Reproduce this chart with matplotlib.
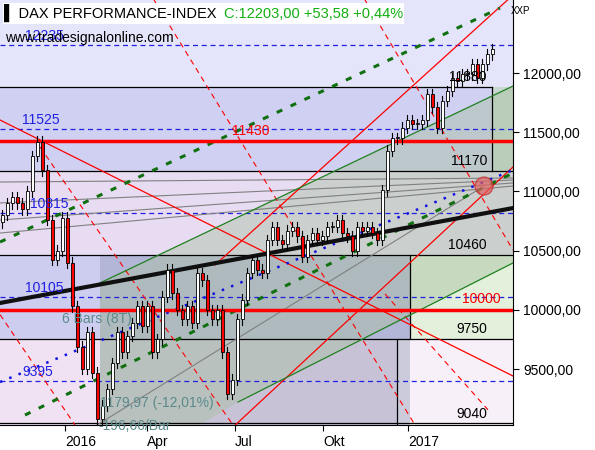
import numpy as np
import matplotlib.pyplot as plt
from matplotlib.patches import Rectangle, Polygon, Ellipse
from matplotlib.offsetbox import TextArea, HPacker, AnchoredOffsetbox

plt.rcParams["font.family"] = ["Liberation Sans", "DejaVu Sans"]

# closes read every 5 bars (x = 2, 7, 12, ...)
closes = [10800, 10900, 10950, 10900, 10850, 11000, 11300, 11420, 11180, 10760,
          10420, 10500, 10780, 10400, 10030, 9690, 9500, 9810, 9470, 9080,
          9190, 9330, 9550, 9810, 9640, 9780, 9890, 10030, 9860, 10030,
          9640, 9750, 10110, 10340, 10140, 10000, 9920, 10030, 9890, 10310,
          10250, 10000, 9920, 10000, 9640, 9290, 9410, 9920, 10085, 10310,
          10420, 10340, 10310, 10590, 10700, 10590, 10560, 10670, 10700, 10620,
          10450, 10590, 10650, 10590, 10620, 10700, 10700, 10760, 10650, 10620,
          10500, 10700, 10670, 10700, 10650, 10590, 11010, 11345, 11450, 11450,
          11540, 11600, 11570, 11570, 11600, 11825, 11710, 11540, 11765, 11850,
          11960, 11935, 11990, 11990, 12075, 11960, 12075, 12160, 12203]
bar_x = np.arange(len(closes)) * 5 + 2

tick_pos = [65, 147, 235, 323, 408]
tick_labels = ["2016", "Apr", "Jul", "Okt", "2017"]
y_ticks = [9500, 10000, 10500, 11000, 11500, 12000]

levels_black = [11880, 11170, 10460, 9750, 9040]
levels_red = [11430, 10000]
levels_blue = [12235, 11525, 10815, 10105, 9395]

# trend lines: (x0, p0, x1, p1)
black_thick = (0, 10058, 513, 10860)
blue_dotted = (0, 9390, 513, 11182)
green_dashed = [(0, 10573, 500, 12550), (25, 9111, 513, 11156)]
green_upper = (100, 10227, 513, 11891)
green_lower = (238, 9221, 513, 10396)
red_solid = [(0, 11604, 513, 9441), (215, 10379, 513, 12660), (232, 9001, 513, 11207)]
red_dashed = [(40, 11376, 233, 9027), (154, 12618, 415, 9027), (365, 12618, 513, 10505),
              (0, 9960, 75, 9027), (385, 10135, 488, 9155)]
gray_lines = [(0, 11080, 513, 11114), (0, 10903, 513, 11097),
              (0, 10759, 513, 11072), (0, 10649, 513, 11046), (97, 9027, 484, 11046)]
circle_pt = (484, 11046)

XMAX, YMIN, YMAX = 513, 9027, 12618

fig = plt.figure(figsize=(5.95, 4.5), dpi=100)
ax = fig.add_axes([0, 25 / 450, 513 / 595, 425 / 450])
ax.set_xlim(0, XMAX)
ax.set_ylim(YMIN, YMAX)
ax.set_facecolor("#e4e4fa")

def rect(x0, x1, p0, p1, c, a=1.0, z=0):
    ax.add_patch(Rectangle((x0, p0), x1 - x0, p1 - p0, color=c, alpha=a, lw=0, zorder=z))

rect(0, 492, 11170, 11880, "#cfd0f2")
rect(492, 513, 11170, 11880, "#c8d8d0")
rect(0, 513, 10460, 11170, "#e8dcf2")
rect(0, 410, 9750, 10460, "#cdcdf0")
rect(410, 513, 9750, 10460, "#e2f0dc")
rect(0, 397, YMIN, 9750, "#f0e2f2")
rect(397, 513, YMIN, 9750, "#f8f0f8")
rect(100, 410, YMIN, 10460, "#8c94b0", 0.4, 0.5)

ax.add_patch(Polygon([(green_upper[0], green_upper[1]), (green_upper[2], green_upper[3]),
                      (green_lower[2], green_lower[3]), (green_lower[0], green_lower[1]),
                      (200, YMIN), (100, YMIN)],
                     closed=True, color="#a8c0a0", alpha=0.45, lw=0, zorder=0.6))

def seg(l, **kw):
    ax.plot([l[0], l[2]], [l[1], l[3]], **kw)

for lv in levels_blue:
    ax.axhline(lv, color="#2020e0", ls=(0, (4, 3)), lw=0.9, zorder=1)
ax.plot([0, 492], [11880, 11880], color="black", lw=0.9, zorder=1)
for lv in levels_black[1:]:
    ax.axhline(lv, color="black", lw=0.9, zorder=1)
ax.plot([492, 492], [11170, 11880], color="black", lw=0.9, zorder=1)
ax.plot([410, 410], [9750, 10460], color="black", lw=0.9, zorder=1)
ax.plot([397, 397], [YMIN, 9750], color="black", lw=0.9, zorder=1)

for l in gray_lines:
    seg(l, color="#808080", lw=0.8, zorder=1.2)
for l in red_dashed:
    seg(l, color="red", lw=0.8, ls=(0, (5, 4)), zorder=1.2)
for l in red_solid:
    seg(l, color="red", lw=0.9, zorder=1.3)
seg(green_upper, color="#208020", lw=0.9, zorder=1.3)
seg(green_lower, color="#208020", lw=0.9, zorder=1.3)
for l in green_dashed:
    seg(l, color="#107010", lw=2.2, ls=(0, (2, 3)), zorder=1.4)
seg(blue_dotted, color="#1010e0", lw=1.8, ls=(0, (1, 3)), zorder=1.4)
for lv in levels_red:
    ax.axhline(lv, color="red", lw=2.5, zorder=1.5)
seg(black_thick, color="#101010", lw=3.0, zorder=1.6)

# candles
prev = closes[0] - 60
for x, c in zip(bar_x, closes):
    o = prev
    hi, lo = max(o, c) + 45, min(o, c) - 45
    ax.plot([x, x], [lo, hi], color="black", lw=0.8, zorder=2)
    face = "red" if c < o else "white"
    ax.add_patch(Rectangle((x - 1.5, min(o, c)), 3, max(abs(c - o), 8),
                           facecolor=face, edgecolor="black", lw=0.6, zorder=2.1))
    prev = c

ax.add_patch(Ellipse(circle_pt, 18, 18 * (YMAX - YMIN) / 425,
                     facecolor="#e06060", edgecolor="#c03030", alpha=0.7, lw=1, zorder=3))

# level labels
def lbl(x, p, s, c, **kw):
    ax.text(x, p, s, color=c, fontsize=10, zorder=4, **kw)

lbl(25, 12235 + 20, "12235", "#2020e0", va="bottom")
lbl(22, 11525 + 20, "11525", "#2020e0", va="bottom")
lbl(30, 10815 + 20, "10815", "#2020e0", va="bottom")
lbl(25, 10105 + 20, "10105", "#2020e0", va="bottom")
lbl(22, 9395 + 20, "9395", "#2020e0", va="bottom")
lbl(232, 11430 + 20, "11430", "red", va="bottom")
lbl(462, 10000 + 30, "10000", "red", va="bottom")
for lv in levels_black:
    lbl(487, lv + 25, f"{lv}", "black", va="bottom", ha="right")
ax.text(62, 9985, "6 Bars (8T)", color="#5a8a8a", fontsize=10, va="top", zorder=4)
ax.text(100, 9150, "1179,97 (-12,01%)", color="#5a8a8a", fontsize=10, va="bottom", zorder=4)
ax.text(98, 9080, "-196,66/Bar", color="#5a8a8a", fontsize=10, va="top", zorder=4)

ax.text(5, 12300, "www.tradesignalonline.com", color="black", fontsize=10, va="center", zorder=5)

# title box: black name + green quote
title = HPacker(children=[
    TextArea("\u258c DAX PERFORMANCE-INDEX", textprops=dict(color="black", fontsize=10.5)),
    TextArea("C:12203,00 +53,58 +0,44%", textprops=dict(color="#10b010", fontsize=10.5)),
], sep=5, pad=0)
box = AnchoredOffsetbox(loc="upper left", child=title, pad=0.1, borderpad=0.2,
                        frameon=True, bbox_to_anchor=(0, 1), bbox_transform=ax.transAxes)
box.patch.set_facecolor("white")
box.patch.set_edgecolor("none")
box.set_zorder(6)
ax.add_artist(box)

ax.yaxis.tick_right()
ax.set_yticks(y_ticks)
ax.set_yticklabels([f"{v:,.2f}".replace(",", "X").replace(".", ",").replace("X", "") for v in y_ticks],
                   fontsize=10)
ax.set_xticks(tick_pos)
ax.set_xticklabels(tick_labels, fontsize=10, ha="left")
ax.tick_params(length=4, color="black")
for s in ["top", "left"]:
    ax.spines[s].set_visible(False)
fig.text(0.858, 0.975, "XXP", fontsize=7, va="center")

fig.savefig("out.png", dpi=100, facecolor="white")
